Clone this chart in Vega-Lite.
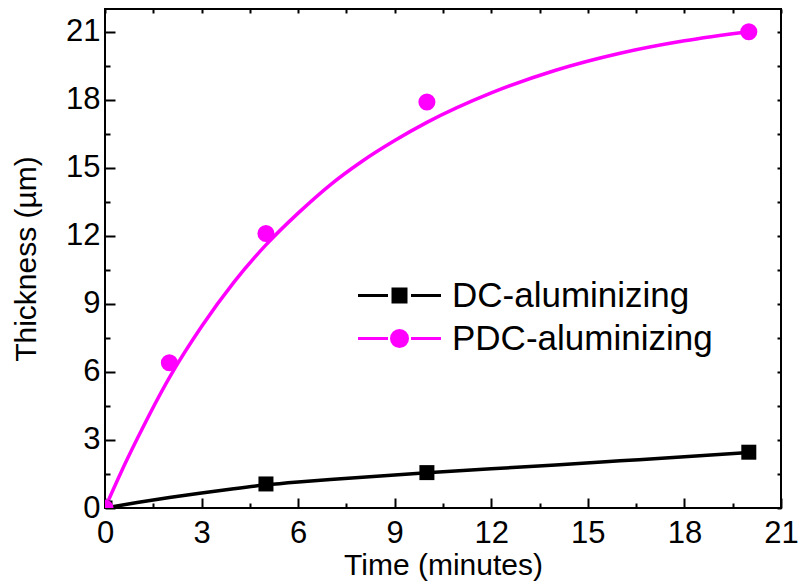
{
  "$schema": "https://vega.github.io/schema/vega-lite/v6.json",
  "width": 676,
  "height": 499,
  "autosize": "none",
  "padding": {"left": 105, "top": 9, "right": 20, "bottom": 76},
  "background": "white",
  "config": {
    "view": {"stroke": "black", "strokeWidth": 2},
    "font": "Liberation Sans",
    "axis": {"grid": false, "domain": false, "labelColor": "black", "titleColor": "black", "tickColor": "black", "tickWidth": 2, "titleFontWeight": "normal", "labelFont": "Liberation Sans", "titleFont": "Liberation Sans", "labelFontSize": 31, "titleFontSize": 30, "labelFlush": false, "labelOverlap": false},
    "legend": {"labelFontSize": 35, "labelFont": "Liberation Sans", "labelColor": "black", "labelLimit": 500}
  },
  "datasets": {
    "fit": [
      {"t": 0, "v": 0, "s": "DC-aluminizing"},
      {"t": 1, "v": 0.24, "s": "DC-aluminizing"},
      {"t": 2, "v": 0.46, "s": "DC-aluminizing"},
      {"t": 3, "v": 0.66, "s": "DC-aluminizing"},
      {"t": 4, "v": 0.85, "s": "DC-aluminizing"},
      {"t": 5, "v": 1.02, "s": "DC-aluminizing"},
      {"t": 6, "v": 1.15, "s": "DC-aluminizing"},
      {"t": 7, "v": 1.26, "s": "DC-aluminizing"},
      {"t": 8, "v": 1.36, "s": "DC-aluminizing"},
      {"t": 10, "v": 1.55, "s": "DC-aluminizing"},
      {"t": 12, "v": 1.73, "s": "DC-aluminizing"},
      {"t": 14, "v": 1.9, "s": "DC-aluminizing"},
      {"t": 16, "v": 2.08, "s": "DC-aluminizing"},
      {"t": 18, "v": 2.26, "s": "DC-aluminizing"},
      {"t": 20, "v": 2.45, "s": "DC-aluminizing"},
      {"t": 0, "v": 0, "s": "PDC-aluminizing"},
      {"t": 0.5, "v": 1.58, "s": "PDC-aluminizing"},
      {"t": 1, "v": 3.05, "s": "PDC-aluminizing"},
      {"t": 2, "v": 5.75, "s": "PDC-aluminizing"},
      {"t": 3, "v": 8.0, "s": "PDC-aluminizing"},
      {"t": 4, "v": 9.95, "s": "PDC-aluminizing"},
      {"t": 5, "v": 11.6, "s": "PDC-aluminizing"},
      {"t": 6, "v": 13.0, "s": "PDC-aluminizing"},
      {"t": 7, "v": 14.25, "s": "PDC-aluminizing"},
      {"t": 8, "v": 15.3, "s": "PDC-aluminizing"},
      {"t": 9, "v": 16.2, "s": "PDC-aluminizing"},
      {"t": 10, "v": 17.0, "s": "PDC-aluminizing"},
      {"t": 12, "v": 18.3, "s": "PDC-aluminizing"},
      {"t": 14, "v": 19.3, "s": "PDC-aluminizing"},
      {"t": 16, "v": 20.05, "s": "PDC-aluminizing"},
      {"t": 18, "v": 20.6, "s": "PDC-aluminizing"},
      {"t": 20, "v": 21.0, "s": "PDC-aluminizing"}
    ],
    "pts": [
      {"t": 0, "v": 0, "s": "DC-aluminizing"},
      {"t": 5, "v": 1.06, "s": "DC-aluminizing"},
      {"t": 10, "v": 1.56, "s": "DC-aluminizing"},
      {"t": 20, "v": 2.46, "s": "DC-aluminizing"},
      {"t": 0, "v": 0, "s": "PDC-aluminizing"},
      {"t": 2, "v": 6.4, "s": "PDC-aluminizing"},
      {"t": 5, "v": 12.1, "s": "PDC-aluminizing"},
      {"t": 10, "v": 17.9, "s": "PDC-aluminizing"},
      {"t": 20, "v": 21.0, "s": "PDC-aluminizing"}
    ]
  },
  "resolve": {"axis": {"x": "independent", "y": "independent"}},
  "layer": [
    {
      "data": {"name": "fit"},
      "mark": {"type": "line", "strokeWidth": 3.5, "interpolate": "monotone", "clip": true},
      "encoding": {
        "x": {"field": "t", "type": "quantitative", "scale": {"domain": [0, 21], "nice": false},
          "axis": {"orient": "bottom", "title": "Time (minutes)", "titlePadding": -3, "labelPadding": 20,
            "values": [0, 1.5, 3, 4.5, 6, 7.5, 9, 10.5, 12, 13.5, 15, 16.5, 18, 19.5, 21],
            "labelExpr": "datum.value % 3 == 0 ? datum.label : ''",
            "tickSize": {"condition": {"test": "datum.value % 3 == 0", "value": -10}, "value": -5}}},
        "y": {"field": "v", "type": "quantitative", "scale": {"domain": [0, 22], "nice": false},
          "axis": {"orient": "left", "title": "Thickness (µm)", "titlePadding": 24, "labelPadding": 15,
            "values": [0, 1.5, 3, 4.5, 6, 7.5, 9, 10.5, 12, 13.5, 15, 16.5, 18, 19.5, 21],
            "labelExpr": "datum.value % 3 == 0 ? datum.label : ''",
            "tickSize": {"condition": {"test": "datum.value % 3 == 0", "value": -10}, "value": -5}}},
        "color": {"field": "s", "type": "nominal",
          "scale": {"domain": ["DC-aluminizing", "PDC-aluminizing"], "range": ["#000000", "#ff00ff"]},
          "legend": null}
      }
    },
    {
      "data": {"name": "pts"},
      "transform": [{"filter": "datum.s == 'DC-aluminizing'"}],
      "mark": {"type": "point", "shape": "square", "filled": true, "opacity": 1, "size": 225, "clip": true},
      "encoding": {
        "x": {"field": "t", "type": "quantitative",
          "axis": {"orient": "top", "title": null, "labels": false,
            "values": [0, 1.5, 3, 4.5, 6, 7.5, 9, 10.5, 12, 13.5, 15, 16.5, 18, 19.5, 21], "tickSize": -4}},
        "y": {"field": "v", "type": "quantitative",
          "axis": {"orient": "right", "title": null, "labels": false,
            "values": [0, 1.5, 3, 4.5, 6, 7.5, 9, 10.5, 12, 13.5, 15, 16.5, 18, 19.5, 21], "tickSize": -4}},
        "fill": {"field": "s", "type": "nominal",
          "scale": {"domain": ["DC-aluminizing"], "range": ["#000000"]},
          "legend": {"orient": "none", "legendX": 277, "legendY": 269, "title": null, "padding": 0,
            "labelOffset": 35, "symbolSize": 400, "symbolStrokeWidth": 3,
            "symbolStrokeColor": "#000000", "symbolFillColor": "#000000", "symbolOpacity": 1,
            "symbolType": "M-4.15,0H-1.15M1.15,0H4.15M-0.65,-0.65H0.65V0.65H-0.65Z"}}
      }
    },
    {
      "data": {"name": "pts"},
      "transform": [{"filter": "datum.s == 'PDC-aluminizing'"}],
      "mark": {"type": "point", "shape": "circle", "filled": true, "opacity": 1, "size": 227, "clip": true},
      "encoding": {
        "x": {"field": "t", "type": "quantitative", "axis": null},
        "y": {"field": "v", "type": "quantitative", "axis": null},
        "stroke": {"field": "s", "type": "nominal",
          "scale": {"domain": ["PDC-aluminizing"], "range": ["#ff00ff"]},
          "legend": {"orient": "none", "legendX": 277, "legendY": 312, "title": null, "padding": 0,
            "labelOffset": 35, "symbolSize": 400, "symbolStrokeWidth": 3,
            "symbolStrokeColor": "#ff00ff", "symbolFillColor": "#ff00ff", "symbolOpacity": 1,
            "symbolType": "M-4.15,0H-1.15M1.15,0H4.15M-0.8,0A0.8,0.8,0,1,0,0.8,0A0.8,0.8,0,1,0,-0.8,0Z"}},
        "fill": {"value": "#ff00ff"}
      }
    }
  ]
}
